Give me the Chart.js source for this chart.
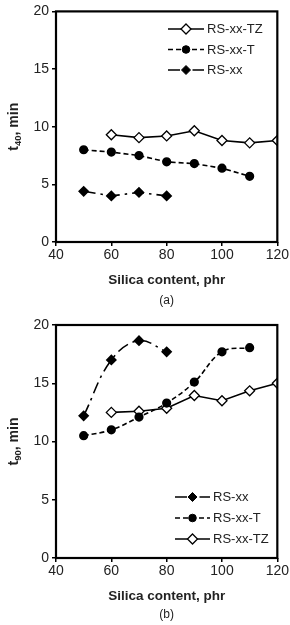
<!DOCTYPE html>
<html><head><meta charset="utf-8">
<script src="https://cdn.jsdelivr.net/npm/chart.js@4/dist/chart.umd.min.js"></script>
<style>
html,body{margin:0;padding:0;background:#fff;width:290px;height:625px;overflow:hidden;}
canvas{position:absolute;left:0;}
#ca{top:0;} #cb{top:310px;}
</style></head><body>
<canvas id="ca" width="290" height="310"></canvas>
<canvas id="cb" width="290" height="315"></canvas>
<script>
const silica = [50, 60, 70, 80, 90, 100, 110, 120];
const t40_RS = [4.4, 4.0, 4.3, 4.0, null, null, null, null];
const t40_T  = [8.0, 7.8, 7.5, 6.95, 6.8, 6.4, 5.7, null];
const t40_TZ = [null, 9.3, 9.05, 9.2, 9.65, 8.8, 8.6, 8.8];
const t90_RS = [12.2, 17.0, 18.65, 17.7, null, null, null, null];
const t90_T  = [10.5, 11.0, 12.1, 13.3, 15.1, 17.7, 18.05, null];
const t90_TZ = [null, 12.5, 12.6, 12.85, 13.95, 13.5, 14.35, 15.0];
const seriesNames = ['RS-xx', 'RS-xx-T', 'RS-xx-TZ'];
const xTickValues = [40, 60, 80, 100, 120];
const yTickValues = [0, 5, 10, 15, 20];

const FONT = '"Liberation Sans", Arial, sans-serif';
const TXT = '#222';

function pts(vals){ const out=[]; vals.forEach((v,i)=>{ if(v!==null) out.push({x:silica[i], y:v}); }); return out; }

function makeDatasets(rs, t, tz, smooth){
  return {
    'RS-xx': {label:seriesNames[0], data:pts(rs), borderColor:'#000', backgroundColor:'#000', borderWidth:1.6,
      borderDash:[12,5,2.5,5], pointStyle:'rectRot', pointRadius:4.5, pointBackgroundColor:'#000', pointBorderColor:'#000', tension: smooth?0.4:0},
    'RS-xx-T': {label:seriesNames[1], data:pts(t), borderColor:'#000', backgroundColor:'#000', borderWidth:1.6,
      borderDash:[5,3], pointStyle:'circle', pointRadius:3.8, pointBackgroundColor:'#000', pointBorderColor:'#000', tension: smooth?0.4:0},
    'RS-xx-TZ': {label:seriesNames[2], data:pts(tz), borderColor:'#000', backgroundColor:'#fff', borderWidth:1.6,
      borderDash:[], pointStyle:'rectRot', pointRadius:5, pointBorderWidth:1.3, pointBackgroundColor:'#fff', pointBorderColor:'#000', tension:0}
  };
}

function decorPlugin(cfg){
  return {
    id:'decor',
    afterDraw(chart){
      const ctx = chart.ctx, a = chart.chartArea;
      ctx.save();
      ctx.lineWidth = 2.2; ctx.strokeStyle = '#000'; ctx.setLineDash([]);
      ctx.strokeRect(a.left, a.top, a.right-a.left, a.bottom-a.top);
      ctx.fillStyle = TXT;
      ctx.font = 'bold 13.5px ' + FONT;
      ctx.textAlign = 'center'; ctx.textBaseline = 'middle';
      ctx.fillText('Silica content, phr', (a.left+a.right)/2, cfg.xTitleY);
      ctx.font = '12px ' + FONT;
      ctx.fillText(cfg.panel, (a.left+a.right)/2, cfg.panelY);
      ctx.save();
      ctx.translate(cfg.yTitleX, (a.top+a.bottom)/2);
      ctx.rotate(-Math.PI/2);
      ctx.textAlign = 'left'; ctx.textBaseline = 'alphabetic';
      const fMain = 'bold 14px ' + FONT, fSub = 'bold 9.5px ' + FONT;
      ctx.font = fMain; const w1 = ctx.measureText('t').width; const w3 = ctx.measureText(', min').width;
      ctx.font = fSub; const w2 = ctx.measureText(cfg.sub).width;
      let x = -(w1+w2+w3)/2;
      ctx.font = fMain; ctx.fillText('t', x, 0); x += w1;
      ctx.font = fSub; ctx.fillText(cfg.sub, x, 3); x += w2;
      ctx.font = fMain; ctx.fillText(', min', x, 0);
      ctx.restore();
      ctx.font = '13px ' + FONT; ctx.textAlign='left'; ctx.textBaseline='middle';
      cfg.legend.forEach((name, i) => {
        const idx = chart.data.datasets.findIndex(d => d.label === name);
        const ds = chart.data.datasets[idx];
        const y = cfg.legY + i*cfg.legGap;
        ctx.strokeStyle = '#000'; ctx.lineWidth = 1.6;
        ctx.setLineDash(ds.borderDash || []);
        ctx.beginPath(); ctx.moveTo(cfg.legX1, y); ctx.lineTo(cfg.legX2, y); ctx.stroke();
        ctx.setLineDash([]);
        const cx = (cfg.legX1+cfg.legX2)/2;
        ctx.fillStyle = ds.pointBackgroundColor; ctx.lineWidth = ds.pointBorderWidth || 1;
        const r = ds.pointRadius;
        ctx.beginPath();
        if(ds.pointStyle==='circle'){ ctx.arc(cx, y, r, 0, Math.PI*2); }
        else { ctx.moveTo(cx, y-r); ctx.lineTo(cx+r, y); ctx.lineTo(cx, y+r); ctx.lineTo(cx-r, y); ctx.closePath(); }
        ctx.fill(); ctx.stroke();
        ctx.fillStyle = TXT;
        ctx.fillText(name, cfg.legX2 + 3, y+0.5);
      });
      ctx.restore();
    }
  };
}

function makeChart(id, dsMap, order, cfg){
  return new Chart(document.getElementById(id), {
    type:'line',
    data:{ datasets: order.map(n => dsMap[n]) },
    options:{
      responsive:false, animation:false, devicePixelRatio:1,
      layout:{padding:{top:cfg.top, right:11, left:0, bottom:0}},
      plugins:{legend:{display:false}, tooltip:{enabled:false}},
      scales:{
        x:{type:'linear', min:40, max:120,
          afterBuildTicks(s){ s.ticks = xTickValues.map(v=>({value:v})); },
          afterFit(s){ s.height = cfg.xAxisH; },
          grid:{drawOnChartArea:false, drawTicks:true, tickLength:4, color:'#000', lineWidth:1.5},
          border:{display:false},
          ticks:{color:TXT, font:{family:FONT, size:14}, padding:1, maxRotation:0}},
        y:{type:'linear', min:0, max:20,
          afterBuildTicks(s){ s.ticks = yTickValues.map(v=>({value:v})); },
          afterFit(s){ s.width = 56; },
          grid:{drawOnChartArea:false, drawTicks:true, tickLength:4, color:'#000', lineWidth:1.5},
          border:{display:false},
          ticks:{color:TXT, font:{family:FONT, size:14}, padding:3}}
      }
    },
    plugins:[decorPlugin(cfg)]
  });
}

makeChart('ca', makeDatasets(t40_RS, t40_T, t40_TZ, false), ['RS-xx-TZ','RS-xx-T','RS-xx'], {
  top:8, xAxisH:68, xTitleY:280, panel:'(a)', panelY:301, yTitleX:18, sub:'40',
  legend:['RS-xx-TZ','RS-xx-T','RS-xx'], legX1:168, legX2:204, legY:29, legGap:20.5
});
makeChart('cb', makeDatasets(t90_RS, t90_T, t90_TZ, true), ['RS-xx','RS-xx-T','RS-xx-TZ'], {
  top:15, xAxisH:67, xTitleY:286, panel:'(b)', panelY:305, yTitleX:18, sub:'90',
  legend:['RS-xx','RS-xx-T','RS-xx-TZ'], legX1:175, legX2:210, legY:187, legGap:21
});
</script>
</body></html>
